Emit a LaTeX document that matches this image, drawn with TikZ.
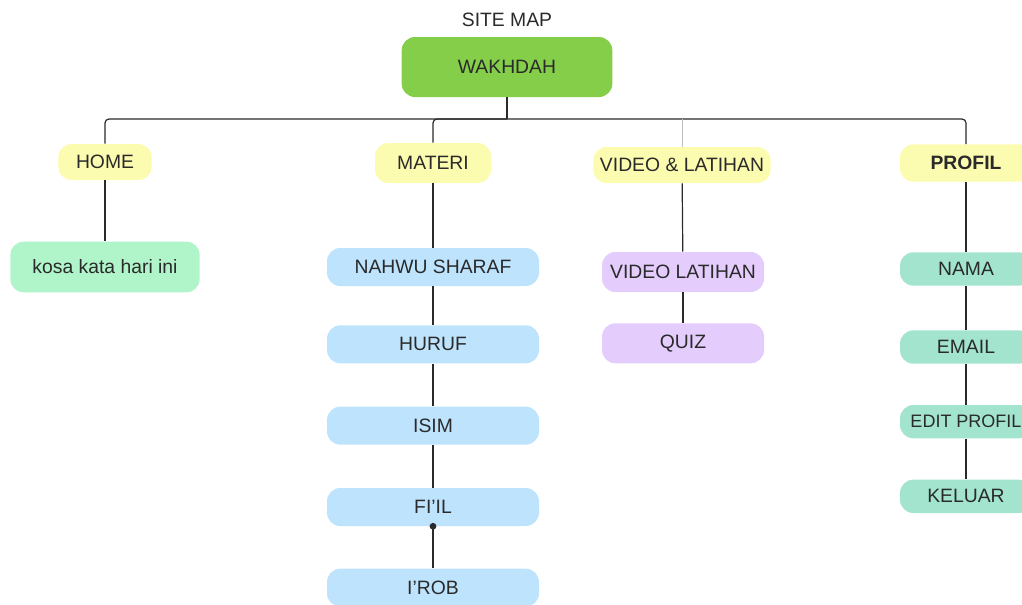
\documentclass[tikz,border=0pt]{standalone}
\usepackage{fontspec}
\setmainfont{Liberation Sans}
\usetikzlibrary{positioning,arrows.meta}
\definecolor{wakgreen}{HTML}{84CE4A}
\definecolor{menuyellow}{HTML}{FCFCB0}
\definecolor{homemint}{HTML}{B0F4C9}
\definecolor{materiblue}{HTML}{BEE3FD}
\definecolor{videolilac}{HTML}{E4CDFD}
\definecolor{profilteal}{HTML}{A2E4CE}
\definecolor{ink}{HTML}{2A2A2A}
\tikzset{
  box/.style={rounded corners=10pt, text=ink, font=\fontsize{14.5}{17}\selectfont},
  menu/.style={box, fill=menuyellow, minimum height=27pt},
  link/.style={draw=ink, line width=0.9pt},
}
\begin{document}
\begin{tikzpicture}[x=0.75pt, y=-0.75pt, node distance=60pt]
  \useasboundingbox (0,0) rectangle (1022,604);
  \clip (0,0) rectangle (1022,604);
  \node (title) at (507,20) [text=ink, font=\fontsize{14.5}{17}\selectfont] {SITE MAP};
  \node (wak) at (507,67) [box, fill=wakgreen, minimum width=158pt, minimum height=45pt] {WAKHDAH};
  \coordinate (hub) at (507,119);
  % top menu
  \node (home) at (105,162) [menu, minimum width=70pt] {HOME};
  \node (materi) at (433,163) [menu, minimum width=87pt, minimum height=30pt] {MATERI};
  \node (video) at (682,165) [menu, minimum width=133pt] {VIDEO \& LATIHAN};
  \node (profil) at (966,163) [menu, minimum width=99pt, minimum height=28pt, font=\fontsize{14.5}{17}\selectfont\bfseries] {PROFIL};
  % home
  \node (kosa) at (105,267) [box, fill=homemint, minimum width=142pt, minimum height=38pt] {kosa kata hari ini};
  % materi
  \node (nahwu) at (433,267) [box, fill=materiblue, minimum width=159pt, minimum height=28.5pt] {NAHWU SHARAF};
  \node (huruf) [below of=nahwu, node distance=58pt, box, fill=materiblue, minimum width=159pt, minimum height=28.5pt] {HURUF};
  \node (isim) [below of=huruf, node distance=61pt, box, fill=materiblue, minimum width=159pt, minimum height=28.5pt] {ISIM};
  \node (fiil) [below of=isim, node distance=61pt, box, fill=materiblue, minimum width=159pt, minimum height=28.5pt] {FI’IL};
  \node (irob) [below of=fiil, node distance=60.5pt, box, fill=materiblue, minimum width=159pt, minimum height=28.5pt] {I’ROB};
  % video
  \node (vidlat) at (683,272) [box, fill=videolilac, minimum width=121.5pt, minimum height=30pt] {VIDEO LATIHAN};
  \node (quiz) [below of=vidlat, node distance=53.5pt, box, fill=videolilac, minimum width=121.5pt, minimum height=30pt] {QUIZ};
  % profil
  \node (nama) at (966,269) [box, fill=profilteal, minimum width=99pt, minimum height=25pt] {NAMA};
  \node (email) [below of=nama, node distance=58.5pt, box, fill=profilteal, minimum width=99pt, minimum height=25pt] {EMAIL};
  \node (edit) [below of=email, node distance=56pt, box, fill=profilteal, minimum width=99pt, minimum height=25pt, font=\fontsize{13.5}{16}\selectfont] {EDIT PROFIL};
  \node (keluar) [below of=edit, node distance=56pt, box, fill=profilteal, minimum width=99pt, minimum height=25pt] {KELUAR};
  % connectors
  \draw[link] (wak) -- (hub);
  \draw[link, rounded corners=3pt] (hub) -| (home);
  \draw[link, rounded corners=3pt] (hub) -| (materi);
  \draw[link, rounded corners=3pt] (hub) -| (profil);
  \draw[draw=gray!50, line width=0.6pt] (video |- hub) -- (video);
  \draw[link] (home) -- (kosa);
  \draw[link] (materi) -- (nahwu);
  \draw[link] (nahwu) -- (huruf);
  \draw[link] (huruf) -- (isim);
  \draw[link] (isim) -- (fiil);
  \draw[link, {Circle[length=5pt]}-, shorten <=-2.5pt] (fiil) -- (irob);
  \draw[link] (video) -- (vidlat);
  \draw[link] (vidlat) -- (quiz);
  \draw[link] (profil) -- (nama);
  \draw[link] (nama) -- (email);
  \draw[link] (email) -- (edit);
  \draw[link] (edit) -- (keluar);
\end{tikzpicture}
\end{document}
